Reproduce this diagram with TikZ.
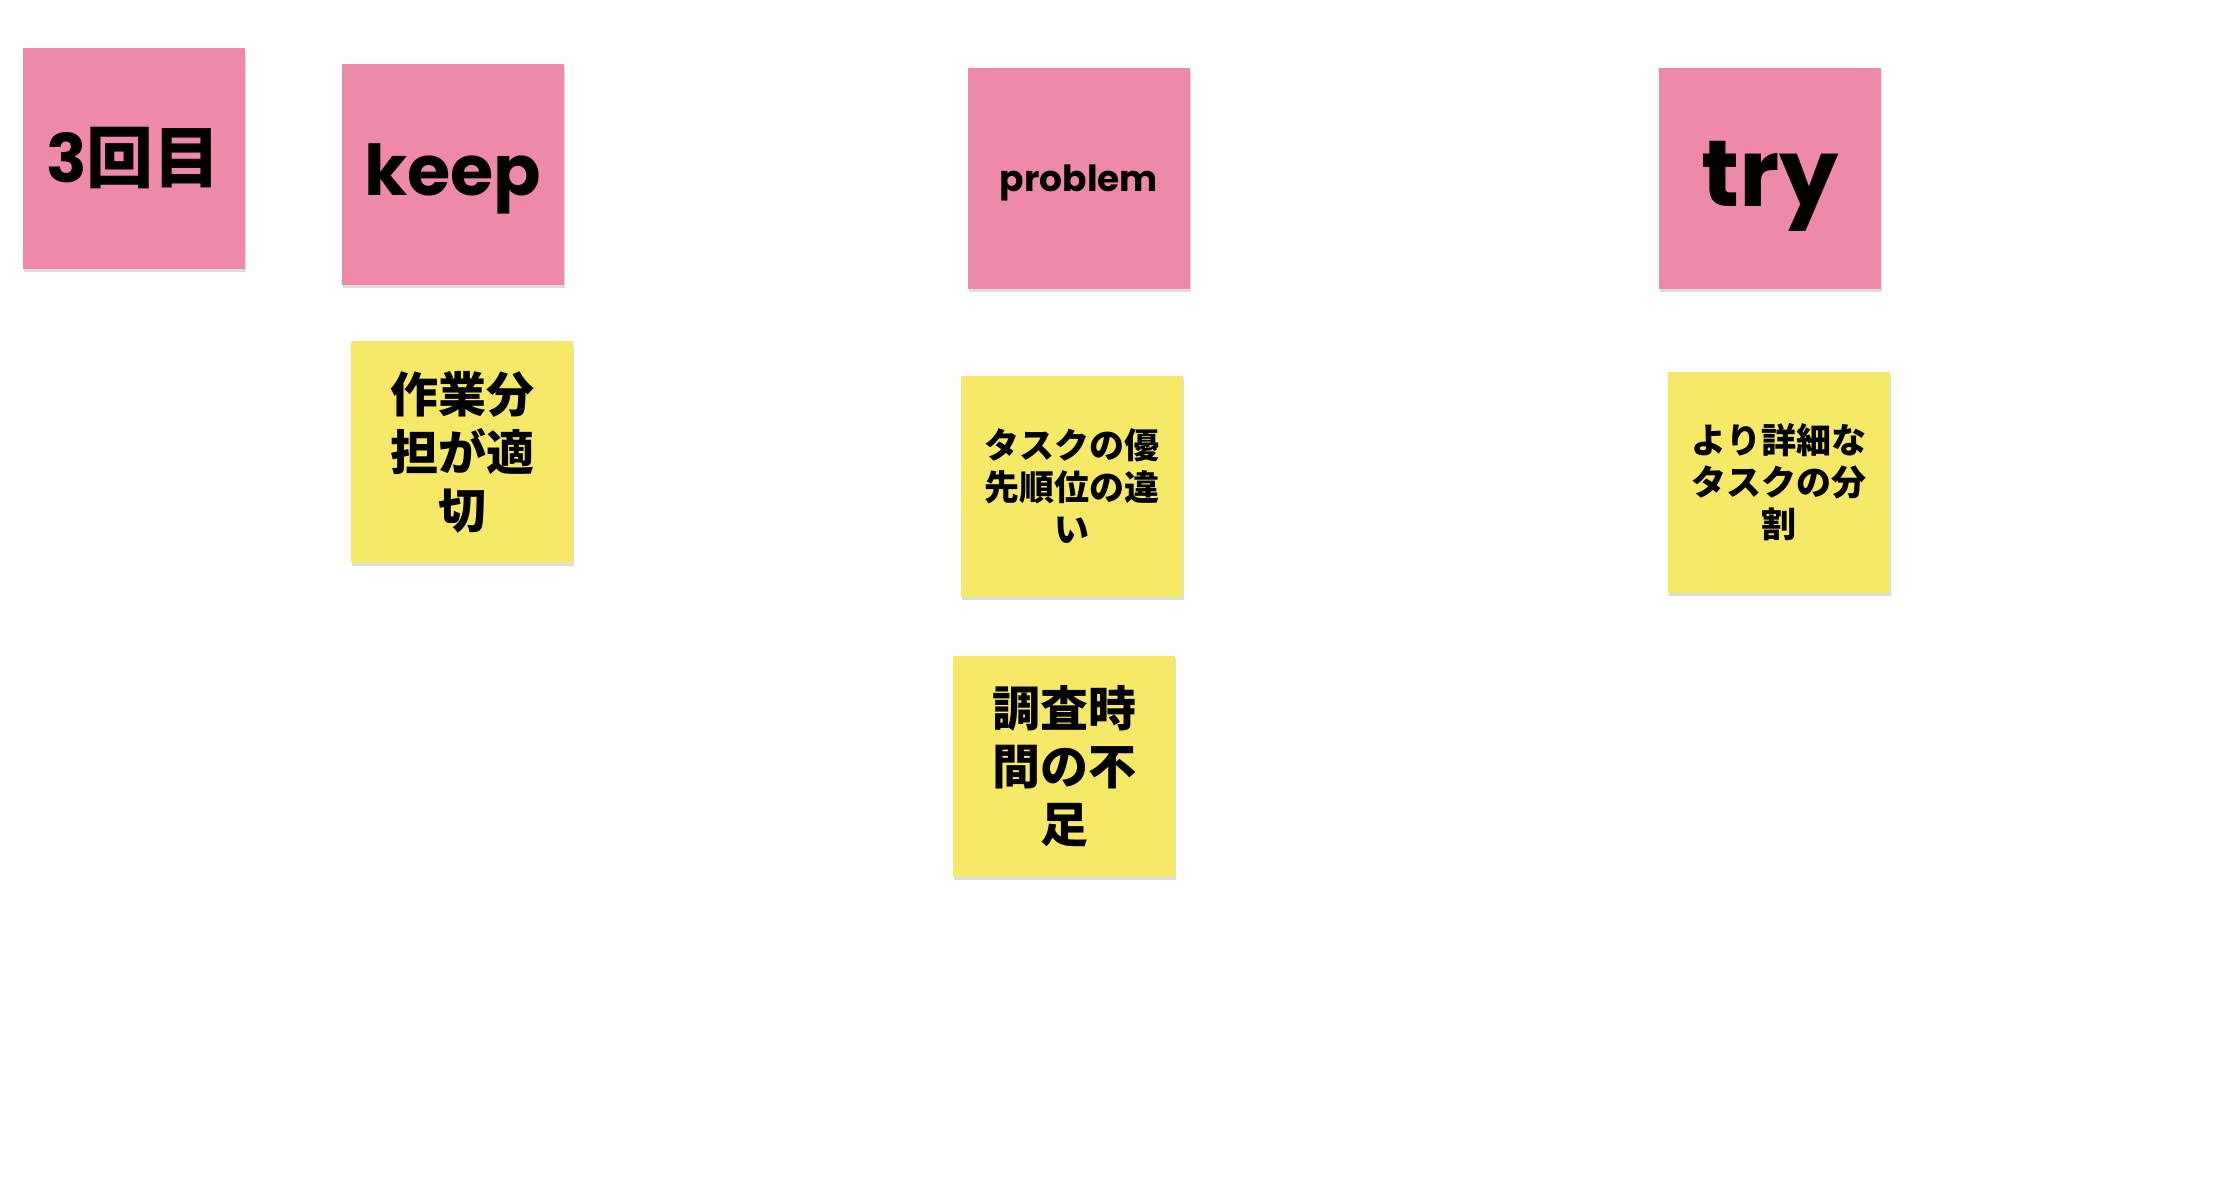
\documentclass[tikz,border=0pt]{standalone}
\usepackage{fontspec}
\newfontfamily\pop{Poppins}
\newfontfamily\cjk{Noto Sans CJK JP}
\usetikzlibrary{shadows}
\definecolor{notepink}{RGB}{238,138,168}
\definecolor{noteyellow}{RGB}{247,233,104}
\newcommand{\lowered}[2]{\raisebox{-#1}[\height][\depth]{#2}}
\tikzset{
  sticky/.style={minimum width=222pt, minimum height=221pt, inner sep=0pt, align=center, text=black,
    drop shadow={shadow xshift=1pt, shadow yshift=-3pt, opacity=0.22, fill=black!60}},
  pinknote/.style={sticky, fill=notepink},
  yellownote/.style={sticky, fill=noteyellow},
  bigjp/.style={font={\cjk\bfseries\fontsize{48}{58}\selectfont}},
  smalljp/.style={font={\cjk\bfseries\fontsize{35}{42}\selectfont}},
}
\begin{document}
\begin{tikzpicture}[x=1pt,y=-1pt]
\useasboundingbox[fill=white] (0,0) rectangle (2217,1198);
\node[pinknote, font={\cjk\bfseries\fontsize{67}{72}\selectfont}] (round) at (133.6,158.5) {{\pop\bfseries 3}回目};
\node[pinknote, font={\pop\bfseries\fontsize{70}{76}\selectfont}] (keep) at (453,175) {\lowered{4pt}{keep}};
\node[pinknote, font={\pop\bfseries\fontsize{36}{40}\selectfont}] (problem) at (1079,179) {\lowered{4pt}{problem}};
\node[pinknote, font={\pop\bfseries\fontsize{94}{100}\selectfont}] (try) at (1770,179) {\lowered{7pt}{try}};
\node[yellownote, bigjp] (k1) at (462,452) {作業分\\担が適\\切};
\node[yellownote, smalljp] (p1) at (1072,486) {タスクの優\\先順位の違\\い};
\node[yellownote, bigjp] (p2) at (1064,766) {調査時\\間の不\\足};
\node[yellownote, smalljp] (t1) at (1779,482) {より詳細な\\タスクの分\\割};
\end{tikzpicture}
\end{document}
